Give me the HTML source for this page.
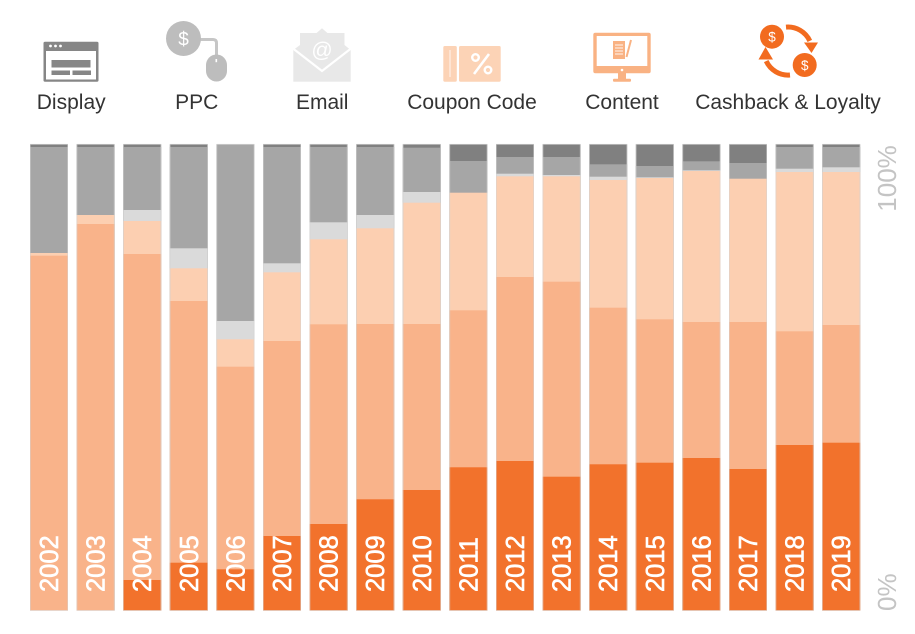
<!DOCTYPE html>
<html><head><meta charset="utf-8"><style>
html,body{margin:0;padding:0;background:#fff;}
svg{display:block;}
text{font-family:"Liberation Sans",sans-serif;}
.a{fill:#808080}.b{fill:#a6a6a6}.c{fill:#dadada}.d{fill:#fccfb1}.e{fill:#f9b38a}.f{fill:#f2722c}
.o{fill:none;stroke:#d4d4d4;stroke-opacity:0.6;stroke-width:0.8}
.y{font-size:25.5px;fill:#fff;stroke:#fff;stroke-width:0.6px}
</style></head><body>
<svg width="915" height="634" viewBox="0 0 915 634" xmlns="http://www.w3.org/2000/svg">
<!-- Display icon -->
<rect x="43.5" y="41.7" width="55" height="40" rx="1.5" fill="#868686"/>
<rect x="46" y="51" width="50" height="28.5" fill="#fff"/>
<circle cx="50.5" cy="46" r="1.4" fill="#fff"/><circle cx="55.5" cy="46" r="1.4" fill="#fff"/><circle cx="60.5" cy="46" r="1.4" fill="#fff"/>
<rect x="51.5" y="60" width="39" height="7.5" fill="#868686"/>
<rect x="51.5" y="70.5" width="18.5" height="4.5" fill="#868686"/>
<rect x="72.5" y="70.5" width="18.5" height="4.5" fill="#868686"/>
<!-- PPC icon -->
<path d="M199 39.5 H213 Q216.5 39.5 216.5 43 V56" fill="none" stroke="#c6c6c6" stroke-width="3"/>
<circle cx="183.5" cy="38.5" r="17.5" fill="#bdbdbd"/>
<text x="183.5" y="45.5" font-size="19" fill="#fff" text-anchor="middle">$</text>
<rect x="206" y="54.5" width="21" height="27" rx="10.5" fill="#bdbdbd"/>
<rect x="215.5" y="59" width="1.6" height="3.2" fill="#fff"/>
<!-- Email icon -->
<polygon points="316,33.5 322,28.3 328,33.5" fill="#e8e8e8"/>
<rect x="300" y="33" width="44.5" height="36" fill="#e8e8e8"/>
<rect x="293.3" y="50" width="57.4" height="31.7" fill="#e8e8e8"/>
<polygon points="293.3,50 300,45 300,50" fill="#e8e8e8"/>
<polygon points="350.7,50 344.5,45 344.5,50" fill="#e8e8e8"/>
<polyline points="293,48.5 322,71 351,48.5" fill="none" stroke="#fff" stroke-width="2.2"/>
<text x="322" y="57" font-size="21" fill="#fff" text-anchor="middle">@</text>
<!-- Coupon icon -->
<rect x="443.3" y="46" width="13.5" height="35.7" rx="1.5" fill="#fcd3b6"/>
<rect x="459" y="46" width="41.7" height="35.7" rx="1.5" fill="#fcd3b6"/>
<circle cx="475.5" cy="57.5" r="3.3" fill="none" stroke="#fff" stroke-width="2.4"/>
<circle cx="488" cy="70" r="3.3" fill="none" stroke="#fff" stroke-width="2.4"/>
<line x1="489" y1="54" x2="474" y2="74" stroke="#fff" stroke-width="2.6"/>
<line x1="450" y1="50" x2="450" y2="77" stroke="#fff" stroke-width="0.8"/>
<!-- Content icon -->
<rect x="593.3" y="32.7" width="57.4" height="40.6" rx="2" fill="#f9b283"/>
<rect x="596.7" y="36" width="50.6" height="30" fill="#fff"/>
<circle cx="622" cy="70" r="1.3" fill="#fff"/>
<rect x="618" y="73" width="8" height="6.5" fill="#f9b283"/>
<rect x="613" y="78.8" width="18" height="3" rx="1" fill="#f9b283"/>
<rect x="613" y="41" width="12" height="18" fill="#f9b283"/>
<g stroke="#fff" stroke-width="0.9"><line x1="615" y1="45" x2="623" y2="45"/><line x1="615" y1="48" x2="623" y2="48"/><line x1="615" y1="51" x2="623" y2="51"/><line x1="615" y1="54" x2="623" y2="54"/></g>
<line x1="631" y1="40" x2="626.5" y2="57" stroke="#f9b283" stroke-width="2"/>
<!-- Cashback icon -->
<g fill="none" stroke="#f26b1f" stroke-width="5">
<path d="M786 27.1 A24 24 0 0 1 809.8 40.9"/>
<path d="M790 75 A24 24 0 0 1 766.2 61.1"/>
</g>
<polygon points="804,42.5 818,42.5 811.5,53" fill="#f26b1f"/>
<polygon points="758.5,59.5 773,59.5 765.5,47" fill="#f26b1f"/>
<circle cx="772" cy="36.7" r="12" fill="#f26b1f"/>
<circle cx="804.7" cy="65" r="12" fill="#f26b1f"/>
<text x="772" y="41.5" font-size="13.5" fill="#fff" text-anchor="middle">$</text>
<text x="804.7" y="70" font-size="13.5" fill="#fff" text-anchor="middle">$</text>
<!-- Labels -->
<g font-size="21" fill="#333" text-anchor="middle">
<text x="71.2" y="109">Display</text>
<text x="196.7" y="109">PPC</text>
<text x="322.2" y="109">Email</text>
<text x="472" y="109">Coupon Code</text>
<text x="622" y="109">Content</text>
<text x="788" y="109">Cashback &amp; Loyalty</text>
</g>
<!-- Bars -->
<g transform="translate(30,0)">
<rect class="a" x="0" y="144.3" width="38" height="466.2"/><rect class="b" x="0" y="147" width="38" height="463.5"/><rect class="d" x="0" y="253" width="38" height="357.5"/><rect class="e" x="0" y="255.7" width="38" height="354.8"/>
<rect class="o" x="0.4" y="144.3" width="37.2" height="466.2"/>
<text class="y" x="28" y="592" transform="rotate(-90 28 592)">2002</text></g>
<g transform="translate(76.6,0)">
<rect class="a" x="0" y="144.3" width="38" height="466.2"/><rect class="b" x="0" y="147" width="38" height="463.5"/><rect class="d" x="0" y="215" width="38" height="395.5"/><rect class="e" x="0" y="224" width="38" height="386.5"/>
<rect class="o" x="0.4" y="144.3" width="37.2" height="466.2"/>
<text class="y" x="28" y="592" transform="rotate(-90 28 592)">2003</text></g>
<g transform="translate(123.2,0)">
<rect class="a" x="0" y="144.3" width="38" height="466.2"/><rect class="b" x="0" y="147" width="38" height="463.5"/><rect class="c" x="0" y="210" width="38" height="400.5"/><rect class="d" x="0" y="221" width="38" height="389.5"/><rect class="e" x="0" y="254" width="38" height="356.5"/><rect class="f" x="0" y="580" width="38" height="30.5"/>
<rect class="o" x="0.4" y="144.3" width="37.2" height="466.2"/>
<text class="y" x="28" y="592" transform="rotate(-90 28 592)">2004</text></g>
<g transform="translate(169.8,0)">
<rect class="a" x="0" y="144.3" width="38" height="466.2"/><rect class="b" x="0" y="147" width="38" height="463.5"/><rect class="c" x="0" y="248.3" width="38" height="362.2"/><rect class="d" x="0" y="268.3" width="38" height="342.2"/><rect class="e" x="0" y="301" width="38" height="309.5"/><rect class="f" x="0" y="562.7" width="38" height="47.8"/>
<rect class="o" x="0.4" y="144.3" width="37.2" height="466.2"/>
<text class="y" x="28" y="592" transform="rotate(-90 28 592)">2005</text></g>
<g transform="translate(216.4,0)">
<rect class="b" x="0" y="144.3" width="38" height="466.2"/><rect class="c" x="0" y="321" width="38" height="289.5"/><rect class="d" x="0" y="339.3" width="38" height="271.2"/><rect class="e" x="0" y="366.7" width="38" height="243.8"/><rect class="f" x="0" y="569.3" width="38" height="41.2"/>
<rect class="o" x="0.4" y="144.3" width="37.2" height="466.2"/>
<text class="y" x="28" y="592" transform="rotate(-90 28 592)">2006</text></g>
<g transform="translate(263,0)">
<rect class="a" x="0" y="144.3" width="38" height="466.2"/><rect class="b" x="0" y="147" width="38" height="463.5"/><rect class="c" x="0" y="263.3" width="38" height="347.2"/><rect class="d" x="0" y="272.3" width="38" height="338.2"/><rect class="e" x="0" y="341" width="38" height="269.5"/><rect class="f" x="0" y="536" width="38" height="74.5"/>
<rect class="o" x="0.4" y="144.3" width="37.2" height="466.2"/>
<text class="y" x="28" y="592" transform="rotate(-90 28 592)">2007</text></g>
<g transform="translate(309.6,0)">
<rect class="a" x="0" y="144.3" width="38" height="466.2"/><rect class="b" x="0" y="147" width="38" height="463.5"/><rect class="c" x="0" y="222.3" width="38" height="388.2"/><rect class="d" x="0" y="239.3" width="38" height="371.2"/><rect class="e" x="0" y="324.3" width="38" height="286.2"/><rect class="f" x="0" y="524" width="38" height="86.5"/>
<rect class="o" x="0.4" y="144.3" width="37.2" height="466.2"/>
<text class="y" x="28" y="592" transform="rotate(-90 28 592)">2008</text></g>
<g transform="translate(356.2,0)">
<rect class="a" x="0" y="144.3" width="38" height="466.2"/><rect class="b" x="0" y="147" width="38" height="463.5"/><rect class="c" x="0" y="215" width="38" height="395.5"/><rect class="d" x="0" y="228.3" width="38" height="382.2"/><rect class="e" x="0" y="324" width="38" height="286.5"/><rect class="f" x="0" y="499.3" width="38" height="111.2"/>
<rect class="o" x="0.4" y="144.3" width="37.2" height="466.2"/>
<text class="y" x="28" y="592" transform="rotate(-90 28 592)">2009</text></g>
<g transform="translate(402.8,0)">
<rect class="a" x="0" y="144.3" width="38" height="466.2"/><rect class="b" x="0" y="147.7" width="38" height="462.8"/><rect class="c" x="0" y="192" width="38" height="418.5"/><rect class="d" x="0" y="202.7" width="38" height="407.8"/><rect class="e" x="0" y="324" width="38" height="286.5"/><rect class="f" x="0" y="490" width="38" height="120.5"/>
<rect class="o" x="0.4" y="144.3" width="37.2" height="466.2"/>
<text class="y" x="28" y="592" transform="rotate(-90 28 592)">2010</text></g>
<g transform="translate(449.4,0)">
<rect class="a" x="0" y="144.3" width="38" height="466.2"/><rect class="b" x="0" y="161" width="38" height="449.5"/><rect class="d" x="0" y="192.7" width="38" height="417.8"/><rect class="e" x="0" y="310.3" width="38" height="300.2"/><rect class="f" x="0" y="467.3" width="38" height="143.2"/>
<rect class="o" x="0.4" y="144.3" width="37.2" height="466.2"/>
<text class="y" x="28" y="592" transform="rotate(-90 28 592)">2011</text></g>
<g transform="translate(496,0)">
<rect class="a" x="0" y="144.3" width="38" height="466.2"/><rect class="b" x="0" y="157" width="38" height="453.5"/><rect class="c" x="0" y="173.7" width="38" height="436.8"/><rect class="d" x="0" y="176.3" width="38" height="434.2"/><rect class="e" x="0" y="277" width="38" height="333.5"/><rect class="f" x="0" y="461" width="38" height="149.5"/>
<rect class="o" x="0.4" y="144.3" width="37.2" height="466.2"/>
<text class="y" x="28" y="592" transform="rotate(-90 28 592)">2012</text></g>
<g transform="translate(542.6,0)">
<rect class="a" x="0" y="144.3" width="38" height="466.2"/><rect class="b" x="0" y="157" width="38" height="453.5"/><rect class="c" x="0" y="175" width="38" height="435.5"/><rect class="d" x="0" y="176.3" width="38" height="434.2"/><rect class="e" x="0" y="281.7" width="38" height="328.8"/><rect class="f" x="0" y="476.7" width="38" height="133.8"/>
<rect class="o" x="0.4" y="144.3" width="37.2" height="466.2"/>
<text class="y" x="28" y="592" transform="rotate(-90 28 592)">2013</text></g>
<g transform="translate(589.2,0)">
<rect class="a" x="0" y="144.3" width="38" height="466.2"/><rect class="b" x="0" y="164.3" width="38" height="446.2"/><rect class="c" x="0" y="176.7" width="38" height="433.8"/><rect class="d" x="0" y="180" width="38" height="430.5"/><rect class="e" x="0" y="307.7" width="38" height="302.8"/><rect class="f" x="0" y="464.3" width="38" height="146.2"/>
<rect class="o" x="0.4" y="144.3" width="37.2" height="466.2"/>
<text class="y" x="28" y="592" transform="rotate(-90 28 592)">2014</text></g>
<g transform="translate(635.8,0)">
<rect class="a" x="0" y="144.3" width="38" height="466.2"/><rect class="b" x="0" y="166" width="38" height="444.5"/><rect class="c" x="0" y="177.3" width="38" height="433.2"/><rect class="d" x="0" y="178" width="38" height="432.5"/><rect class="e" x="0" y="319.3" width="38" height="291.2"/><rect class="f" x="0" y="462.7" width="38" height="147.8"/>
<rect class="o" x="0.4" y="144.3" width="37.2" height="466.2"/>
<text class="y" x="28" y="592" transform="rotate(-90 28 592)">2015</text></g>
<g transform="translate(682.4,0)">
<rect class="a" x="0" y="144.3" width="38" height="466.2"/><rect class="b" x="0" y="161.3" width="38" height="449.2"/><rect class="c" x="0" y="170.3" width="38" height="440.2"/><rect class="d" x="0" y="171" width="38" height="439.5"/><rect class="e" x="0" y="322" width="38" height="288.5"/><rect class="f" x="0" y="458" width="38" height="152.5"/>
<rect class="o" x="0.4" y="144.3" width="37.2" height="466.2"/>
<text class="y" x="28" y="592" transform="rotate(-90 28 592)">2016</text></g>
<g transform="translate(729,0)">
<rect class="a" x="0" y="144.3" width="38" height="466.2"/><rect class="b" x="0" y="163" width="38" height="447.5"/><rect class="d" x="0" y="178.7" width="38" height="431.8"/><rect class="e" x="0" y="322" width="38" height="288.5"/><rect class="f" x="0" y="469" width="38" height="141.5"/>
<rect class="o" x="0.4" y="144.3" width="37.2" height="466.2"/>
<text class="y" x="28" y="592" transform="rotate(-90 28 592)">2017</text></g>
<g transform="translate(775.6,0)">
<rect class="a" x="0" y="144.3" width="38" height="466.2"/><rect class="b" x="0" y="147" width="38" height="463.5"/><rect class="c" x="0" y="168.7" width="38" height="441.8"/><rect class="d" x="0" y="172" width="38" height="438.5"/><rect class="e" x="0" y="331.3" width="38" height="279.2"/><rect class="f" x="0" y="445" width="38" height="165.5"/>
<rect class="o" x="0.4" y="144.3" width="37.2" height="466.2"/>
<text class="y" x="28" y="592" transform="rotate(-90 28 592)">2018</text></g>
<g transform="translate(822.2,0)">
<rect class="a" x="0" y="144.3" width="38" height="466.2"/><rect class="b" x="0" y="147" width="38" height="463.5"/><rect class="c" x="0" y="167.3" width="38" height="443.2"/><rect class="d" x="0" y="172" width="38" height="438.5"/><rect class="e" x="0" y="325" width="38" height="285.5"/><rect class="f" x="0" y="442.7" width="38" height="167.8"/>
<rect class="o" x="0.4" y="144.3" width="37.2" height="466.2"/>
<text class="y" x="28" y="592" transform="rotate(-90 28 592)">2019</text></g>
<!-- Axis labels -->
<text x="896" y="211.7" font-size="26" fill="#c4c4c4" transform="rotate(-90 896 211.7)">100%</text>
<text x="896" y="611" font-size="26" fill="#c4c4c4" transform="rotate(-90 896 611)">0%</text>
</svg>
</body></html>
